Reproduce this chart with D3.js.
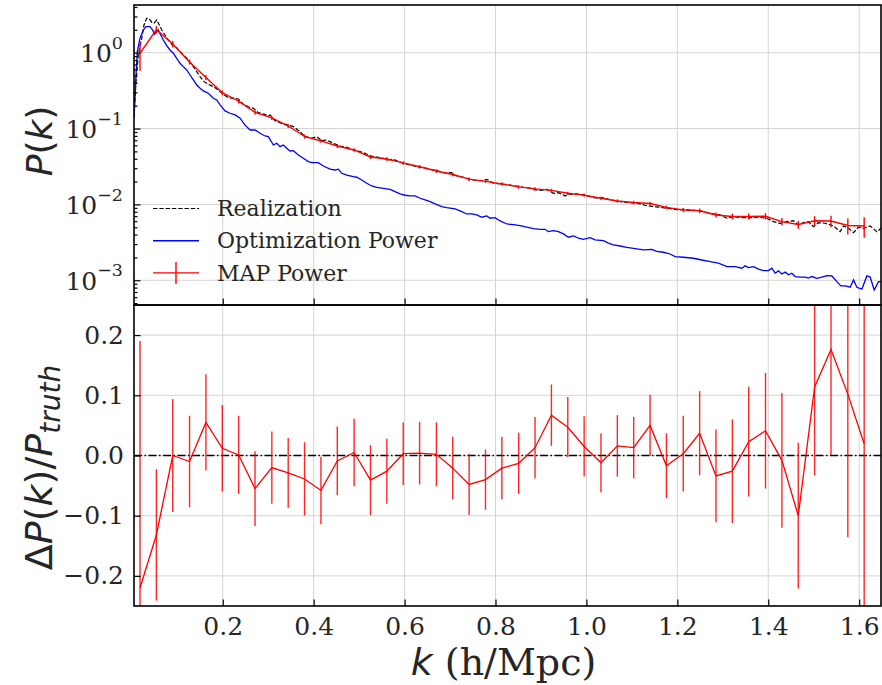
<!DOCTYPE html>
<html>
<head>
<meta charset="utf-8">
<script src="https://cdn.jsdelivr.net/npm/d3@7"></script>
<style>
  body { margin: 0; background: #fff; }
</style>
</head>
<body>
<div id="chart"></div>
<script>
// k bins of the MAP estimate (h/Mpc)
const binK = [0.018, 0.054, 0.090, 0.127, 0.163, 0.199, 0.235, 0.271, 0.308, 0.344,
  0.380, 0.416, 0.452, 0.489, 0.525, 0.561, 0.597, 0.633, 0.670, 0.706,
  0.742, 0.778, 0.814, 0.851, 0.887, 0.923, 0.959, 0.995, 1.032, 1.068,
  1.104, 1.140, 1.176, 1.213, 1.249, 1.285, 1.321, 1.357, 1.394, 1.430,
  1.466, 1.502, 1.538, 1.575, 1.611]

const mapPower = [0.976, 2.02, 1.30, 0.754, 0.471, 0.297, 0.229, 0.163, 0.138, 0.108,
  0.0786, 0.0686, 0.0589, 0.0522, 0.0422, 0.0397, 0.0352, 0.0314, 0.0276, 0.0248,
  0.0215, 0.0201, 0.0186, 0.0170, 0.0160, 0.0153, 0.0140, 0.01324, 0.01205, 0.01110,
  0.01061, 0.01026, 0.00912, 0.00845, 0.00824, 0.00726, 0.00694, 0.00694, 0.00698, 0.00593,
  0.00543, 0.00609, 0.00605, 0.00528, 0.00520]

// (P_map - P_truth) / P_truth
const mapRatio = [-0.220, -0.132, 0.000, -0.010, 0.055, 0.012, 0.001, -0.055, -0.020, -0.029,
  -0.039, -0.058, -0.009, 0.005, -0.041, -0.026, 0.003, 0.004, 0.002, -0.021,
  -0.048, -0.040, -0.021, -0.013, 0.013, 0.067, 0.047, 0.015, -0.012, 0.016,
  0.013, 0.050, -0.017, 0.003, 0.037, -0.034, -0.026, 0.023, 0.041, -0.008,
  -0.100, 0.114, 0.176, 0.102, 0.019]

// 1-sigma relative errors
const mapRelErr = [0.41, 0.109, 0.094, 0.076, 0.080, 0.072, 0.065, 0.062, 0.060, 0.058,
  0.061, 0.056, 0.057, 0.056, 0.058, 0.054, 0.052, 0.052, 0.053, 0.052,
  0.051, 0.050, 0.052, 0.051, 0.051, 0.051, 0.050, 0.050, 0.049, 0.051,
  0.051, 0.051, 0.054, 0.063, 0.070, 0.077, 0.086, 0.091, 0.096, 0.112,
  0.121, 0.147, 0.175, 0.238, 0.30]

const realK = [0.0048, 0.0092, 0.0143, 0.0218, 0.0268, 0.0328, 0.0385, 0.0438, 0.0488, 0.0548,
  0.0605, 0.0658, 0.0730, 0.0803, 0.0878, 0.0988, 0.1098, 0.1208, 0.1318, 0.1428,
  0.1501, 0.1589, 0.1683, 0.1793, 0.1903, 0.2013, 0.2123, 0.2233, 0.2343, 0.2453,
  0.2563, 0.2673, 0.2783, 0.2893, 0.3003, 0.3041, 0.3151, 0.3298, 0.3443, 0.3553,
  0.3701, 0.3811, 0.3958, 0.4068, 0.4178, 0.4288, 0.4433, 0.4581, 0.4728, 0.4873,
  0.5021, 0.5131, 0.5241, 0.5424, 0.5534, 0.5644, 0.5754, 0.5864, 0.5974, 0.6121,
  0.6268, 0.6414, 0.6561, 0.6708, 0.6854, 0.7038, 0.7074, 0.7294, 0.7441, 0.7589,
  0.7734, 0.7809, 0.7954, 0.8174, 0.8321, 0.8431, 0.8614, 0.8799, 0.8944, 0.9129,
  0.9274, 0.9384, 0.9531, 0.9604, 0.9789, 0.9934, 1.0081, 1.0229, 1.0374, 1.0521,
  1.0741, 1.0961, 1.1181, 1.1291, 1.1474, 1.1621, 1.1769, 1.1914, 1.2061, 1.2134,
  1.2502, 1.2794, 1.2942, 1.3089, 1.3234, 1.3419, 1.3602, 1.3784, 1.3969, 1.4114,
  1.4262, 1.4409, 1.4554, 1.4664, 1.4774, 1.4884, 1.4994, 1.5105, 1.5252, 1.5435,
  1.5582, 1.5655, 1.5765, 1.5875, 1.5985, 1.6095, 1.6242, 1.6389, 1.6484]

const realPower = [0.151, 0.415, 0.933, 1.55, 2.32, 2.84, 2.78, 2.52, 2.44, 2.70,
  2.32, 1.99, 1.71, 1.47, 1.29, 1.16, 0.982, 0.844, 0.703, 0.562,
  0.483, 0.415, 0.383, 0.356, 0.322, 0.283, 0.255, 0.251, 0.245, 0.209,
  0.194, 0.185, 0.162, 0.156, 0.1465, 0.151, 0.127, 0.117, 0.111, 0.106,
  0.0910, 0.0781, 0.0744, 0.0781, 0.0692, 0.0707, 0.0640, 0.0589, 0.0566, 0.0522,
  0.0496, 0.0472, 0.0435, 0.0418, 0.0406, 0.0385, 0.0394, 0.0366, 0.0349, 0.0331,
  0.0314, 0.0305, 0.0291, 0.0279, 0.0262, 0.0262, 0.0244, 0.0228, 0.0214, 0.0206,
  0.0206, 0.0214, 0.0190, 0.0184, 0.0180, 0.0175, 0.0168, 0.0163, 0.0152, 0.0158,
  0.0140, 0.0143, 0.01292, 0.01361, 0.01374, 0.01332, 0.01265, 0.01205, 0.01227, 0.01145,
  0.01087, 0.01054, 0.01014, 0.00975, 0.00934, 0.00917, 0.00890, 0.00863, 0.00845, 0.00863,
  0.00820, 0.00748, 0.00726, 0.00657, 0.00690, 0.00669, 0.00669, 0.00677, 0.00657, 0.00593,
  0.00564, 0.00593, 0.00611, 0.00536, 0.00575, 0.00593, 0.00509, 0.00575, 0.00564, 0.00520,
  0.00437, 0.00520, 0.00485, 0.00424, 0.00500, 0.00485, 0.00520, 0.00437, 0.00485]

const optK = [0.0050, 0.0070, 0.0092, 0.0121, 0.0180, 0.0253, 0.0312, 0.0400, 0.0460, 0.0495,
  0.0548, 0.0583, 0.0636, 0.0693, 0.0768, 0.0840, 0.0913, 0.0988, 0.1061, 0.1133,
  0.1208, 0.1281, 0.1353, 0.1428, 0.1501, 0.1573, 0.1683, 0.1793, 0.1868, 0.1941,
  0.2051, 0.2161, 0.2271, 0.2381, 0.2491, 0.2601, 0.2711, 0.2821, 0.2931, 0.3003,
  0.3113, 0.3188, 0.3261, 0.3333, 0.3408, 0.3481, 0.3553, 0.3663, 0.3773, 0.3883,
  0.3958, 0.4103, 0.4213, 0.4361, 0.4471, 0.4543, 0.4618, 0.4728, 0.4873, 0.4948,
  0.5058, 0.5168, 0.5278, 0.5388, 0.5534, 0.5681, 0.5791, 0.5901, 0.6011, 0.6121,
  0.6231, 0.6341, 0.6451, 0.6561, 0.6671, 0.6818, 0.6928, 0.7111, 0.7258, 0.7368,
  0.7478, 0.7588, 0.7699, 0.7809, 0.7881, 0.7991, 0.8101, 0.8249, 0.8394, 0.8541,
  0.8689, 0.8834, 0.8981, 0.9091, 0.9164, 0.9274, 0.9384, 0.9494, 0.9604, 0.9714,
  0.9824, 0.9934, 1.0081, 1.0191, 1.0374, 1.0484, 1.0594, 1.0741, 1.0889, 1.1071,
  1.1254, 1.1439, 1.1549, 1.1694, 1.1841, 1.1951, 1.2134, 1.2354, 1.2539, 1.2722,
  1.2904, 1.3089, 1.3272, 1.3419, 1.3492, 1.3564, 1.3674, 1.3784, 1.3894, 1.4004,
  1.4079, 1.4152, 1.4224, 1.4299, 1.4372, 1.4444, 1.4519, 1.4592, 1.4702, 1.4812,
  1.4884, 1.4959, 1.5069, 1.5179, 1.5289, 1.5399, 1.5509, 1.5597, 1.5692, 1.5802,
  1.5875, 1.5949, 1.6059, 1.6169, 1.6242, 1.6330, 1.6425, 1.6484]

const optPower = [0.138, 0.251, 0.508, 1.03, 1.55, 1.99, 2.20, 2.20, 1.99, 1.75,
  1.89, 1.99, 1.71, 1.47, 1.24, 1.085, 0.982, 0.844, 0.725, 0.654,
  0.591, 0.508, 0.437, 0.375, 0.340, 0.313, 0.292, 0.251, 0.238, 0.205,
  0.171, 0.159, 0.151, 0.137, 0.111, 0.0957, 0.0957, 0.0866, 0.0798, 0.0781,
  0.0607, 0.0640, 0.0577, 0.0607, 0.0549, 0.0506, 0.0511, 0.0449, 0.0406, 0.0366,
  0.0355, 0.0355, 0.0321, 0.0291, 0.0284, 0.0291, 0.0257, 0.0244, 0.0232, 0.0228,
  0.0210, 0.0190, 0.0175, 0.0168, 0.0163, 0.0158, 0.0147, 0.01374, 0.01320, 0.01292,
  0.01292, 0.01205, 0.01145, 0.01087, 0.01014, 0.00934, 0.00906, 0.00871, 0.00802, 0.00748,
  0.00748, 0.00726, 0.00677, 0.00705, 0.00657, 0.00669, 0.00605, 0.00552, 0.00541, 0.00525,
  0.00500, 0.00479, 0.00470, 0.00470, 0.00437, 0.00451, 0.00437, 0.00408, 0.00369, 0.00384,
  0.00358, 0.00347, 0.00365, 0.00340, 0.00333, 0.00308, 0.00292, 0.00283, 0.00272, 0.00261,
  0.00251, 0.00256, 0.00241, 0.00234, 0.00222, 0.00205, 0.00201, 0.00195, 0.00185, 0.00176,
  0.00168, 0.00151, 0.00151, 0.00144, 0.00155, 0.00147, 0.00151, 0.00140, 0.00134, 0.00134,
  0.00144, 0.00124, 0.00133, 0.00121, 0.00128, 0.00118, 0.00124, 0.00112, 0.00110, 0.00110,
  0.00107, 0.00112, 0.00106, 0.00110, 0.00115, 0.00114, 0.000959, 0.000842, 0.000842, 0.000809,
  0.00101, 0.000809, 0.000762, 0.00114, 0.00110, 0.000745, 0.000959, 0.000959]

const xTicks = [0.2, 0.4, 0.6, 0.8, 1.0, 1.2, 1.4, 1.6]
const yTicksTop = [1, 0.1, 0.01, 0.001]
const yTicksTopExp = ["0", "\u22121", "\u22122", "\u22123"]
const yTicksBottom = [0.2, 0.1, 0.0, -0.1, -0.2]
const legendLabels = ["Realization", "Optimization Power", "MAP Power"]

const textColor = "#262626"
const gridColor = "#d4d4d4"
const serif = "'DejaVu Serif', serif"
const sans = "'DejaVu Sans', sans-serif"

let svg = d3.select("#chart")
  .append("svg")
  .attr("width", 882)
  .attr("height", 685)
  .style("background-color", "#FFFFFF")

// panel edges in px
let pLeft = 134, pRight = 881, pTop = 5, pMid = 305, pBottom = 606

let x = d3.scaleLinear().domain([0.0048, 1.648]).range([pLeft, pRight])
let yTop = d3.scaleLog().domain([4.72e-4, 4.25]).range([pMid, pTop])
let yBot = d3.scaleLinear().domain([-0.25, 0.25]).range([pBottom, pMid])

let defs = svg.append("defs")
defs.append("clipPath").attr("id", "clipTop")
  .append("rect").attr("x", pLeft).attr("y", pTop).attr("width", pRight - pLeft).attr("height", pMid - pTop)
defs.append("clipPath").attr("id", "clipBot")
  .append("rect").attr("x", pLeft).attr("y", pMid).attr("width", pRight - pLeft).attr("height", pBottom - pMid)

// grids
let grid = svg.append("g").attr("stroke", gridColor).attr("stroke-width", 1)
grid.selectAll(".vg").data(xTicks).enter().append("line")
  .attr("x1", d => x(d)).attr("x2", d => x(d)).attr("y1", pTop).attr("y2", pBottom)
grid.selectAll(".hgt").data(yTicksTop).enter().append("line")
  .attr("x1", pLeft).attr("x2", pRight).attr("y1", d => yTop(d)).attr("y2", d => yTop(d))
grid.selectAll(".hgb").data(yTicksBottom).enter().append("line")
  .attr("x1", pLeft).attr("x2", pRight).attr("y1", d => yBot(d)).attr("y2", d => yBot(d))

// ---- top panel
let gTop = svg.append("g").attr("clip-path", "url(#clipTop)")

let line = d3.line().x(d => x(d[0])).y(d => yTop(d[1]))

gTop.append("path")
  .datum(realK.map((k, i) => [k, realPower[i]]))
  .attr("d", line)
  .attr("fill", "none").attr("stroke", "#000").attr("stroke-width", 1.2)
  .attr("stroke-dasharray", "4.4,1.9")

gTop.append("path")
  .datum(optK.map((k, i) => [k, optPower[i]]))
  .attr("d", line)
  .attr("fill", "none").attr("stroke", "#0000ff").attr("stroke-width", 1.3)

gTop.selectAll(".errTop").data(binK).enter().append("line")
  .attr("x1", d => x(d)).attr("x2", d => x(d))
  .attr("y1", (d, i) => yTop(mapPower[i] * (1 + mapRelErr[i])))
  .attr("y2", (d, i) => yTop(Math.max(mapPower[i] * (1 - mapRelErr[i]), 1e-5)))
  .attr("stroke", "#ff0000").attr("stroke-width", 1.4)

gTop.append("path")
  .datum(binK.map((k, i) => [k, mapPower[i]]))
  .attr("d", line)
  .attr("fill", "none").attr("stroke", "#ff0000").attr("stroke-width", 1.4)

// ---- bottom panel
let gBot = svg.append("g").attr("clip-path", "url(#clipBot)")

gBot.append("line")
  .attr("x1", pLeft).attr("x2", pRight).attr("y1", yBot(0)).attr("y2", yBot(0))
  .attr("stroke", "#000").attr("stroke-width", 1.3)
  .attr("stroke-dasharray", "8,2.5,1.5,2.5")

gBot.selectAll(".errBot").data(binK).enter().append("line")
  .attr("x1", d => x(d)).attr("x2", d => x(d))
  .attr("y1", (d, i) => yBot(mapRatio[i] + mapRelErr[i]))
  .attr("y2", (d, i) => yBot(mapRatio[i] - mapRelErr[i]))
  .attr("stroke", "#ff0000").attr("stroke-opacity", 0.85).attr("stroke-width", 1.4)

gBot.append("path")
  .datum(binK.map((k, i) => [k, mapRatio[i]]))
  .attr("d", d3.line().x(d => x(d[0])).y(d => yBot(d[1])))
  .attr("fill", "none").attr("stroke", "#ff0000").attr("stroke-width", 1.3)

// ---- axes (ticks pointing in)
function styleAxis(g) {
  g.select(".domain").remove()
  g.selectAll(".tick line").attr("stroke", "#000").attr("stroke-width", 1.2)
  g.selectAll("text").attr("fill", textColor).attr("font-family", serif).attr("font-size", 25)
}

let minorTop = []
for (let e = -4; e <= 0; e++) {
  for (let m = 2; m <= 9; m++) {
    let v = m * Math.pow(10, e)
    if (v > 4.72e-4 && v < 4.25) minorTop.push(v)
  }
}

svg.append("g").attr("transform", `translate(${pLeft},0)`)
  .call(d3.axisLeft(yTop).tickValues(minorTop).tickSize(-3.5).tickFormat(""))
  .call(styleAxis)

let yTopAxis = svg.append("g").attr("transform", `translate(${pLeft},0)`)
  .call(d3.axisLeft(yTop).tickValues(yTicksTop).tickSize(-6.5).tickPadding(12).tickFormat(""))
  .call(styleAxis)

// log tick labels as 10^n
yTopAxis.selectAll(".tick").each(function(d, i) {
  let t = d3.select(this).append("text")
    .attr("x", -11).attr("dy", "0.35em")
    .attr("text-anchor", "end")
    .attr("fill", textColor).attr("font-family", serif).attr("font-size", 25)
  t.append("tspan").text("10")
  t.append("tspan").attr("font-size", 17.5).attr("dy", "-0.75em").text(yTicksTopExp[i])
})

svg.append("g").attr("transform", `translate(0,${pMid})`)
  .call(d3.axisBottom(x).tickValues(xTicks).tickSize(-6.5).tickFormat(""))
  .call(styleAxis)

svg.append("g").attr("transform", `translate(${pLeft},0)`)
  .call(d3.axisLeft(yBot).tickValues(yTicksBottom).tickSize(-6.5).tickPadding(10).tickFormat(d3.format(".1f")))
  .call(styleAxis)

svg.append("g").attr("transform", `translate(0,${pBottom})`)
  .call(d3.axisBottom(x).tickValues(xTicks).tickSize(-6.5).tickPadding(11).tickFormat(d3.format(".1f")))
  .call(styleAxis)

// spines
svg.append("rect").attr("x", pLeft).attr("y", pTop).attr("width", pRight - pLeft).attr("height", pMid - pTop)
  .attr("fill", "none").attr("stroke", "#000").attr("stroke-width", 1.6)
svg.append("rect").attr("x", pLeft).attr("y", pMid).attr("width", pRight - pLeft).attr("height", pBottom - pMid)
  .attr("fill", "none").attr("stroke", "#000").attr("stroke-width", 1.6)

// axis labels
let xl = svg.append("text")
  .attr("x", (pLeft + pRight) / 2 - 4).attr("y", 675)
  .attr("text-anchor", "middle").attr("fill", textColor).attr("font-size", 38)
xl.append("tspan").attr("font-family", sans).attr("font-style", "italic").text("k")
xl.append("tspan").attr("font-family", serif).text(" (h/Mpc)")

let yl1 = svg.append("text")
  .attr("transform", `translate(52,${(pTop + pMid) / 2 - 14}) rotate(-90)`)
  .attr("text-anchor", "middle").attr("fill", textColor).attr("font-size", 36).attr("font-family", sans)
yl1.append("tspan").attr("font-style", "italic").text("P")
yl1.append("tspan").text("(")
yl1.append("tspan").attr("font-style", "italic").text("k")
yl1.append("tspan").text(")")

let yl2 = svg.append("text")
  .attr("transform", `translate(52,${(pMid + pBottom) / 2 + 12}) rotate(-90)`)
  .attr("text-anchor", "middle").attr("fill", textColor).attr("font-size", 38).attr("font-family", sans)
yl2.append("tspan").text("\u0394")
yl2.append("tspan").attr("font-style", "italic").text("P")
yl2.append("tspan").text("(")
yl2.append("tspan").attr("font-style", "italic").text("k")
yl2.append("tspan").text(")/")
yl2.append("tspan").attr("font-style", "italic").text("P")
yl2.append("tspan").attr("font-style", "italic").attr("font-size", 28).attr("dy", "0.3em").text("truth")

// legend
let legend = svg.selectAll(".legend")
  .data(legendLabels)
  .enter().append("g")
  .attr("class", "legend")
  .attr("transform", (d, i) => `translate(153,${208.5 + i * 32.2})`)

legend.append("line")
  .attr("x1", 0).attr("x2", 46).attr("y1", 0).attr("y2", 0)
  .attr("stroke", (d, i) => ["#000", "#0000ff", "#ff0000"][i])
  .attr("stroke-width", (d, i) => i == 0 ? 1.2 : 1.4)
  .attr("stroke-dasharray", (d, i) => i == 0 ? "4.4,1.9" : null)

legend.filter((d, i) => i == 2).append("line")
  .attr("x1", 23).attr("x2", 23).attr("y1", -11).attr("y2", 11)
  .attr("stroke", "#ff0000").attr("stroke-width", 1.4)

legend.append("text")
  .attr("x", 64).attr("y", 0).attr("dy", "0.35em")
  .attr("fill", textColor).attr("font-family", serif).attr("font-size", 22)
  .text(d => d)
</script>
</body>
</html>
